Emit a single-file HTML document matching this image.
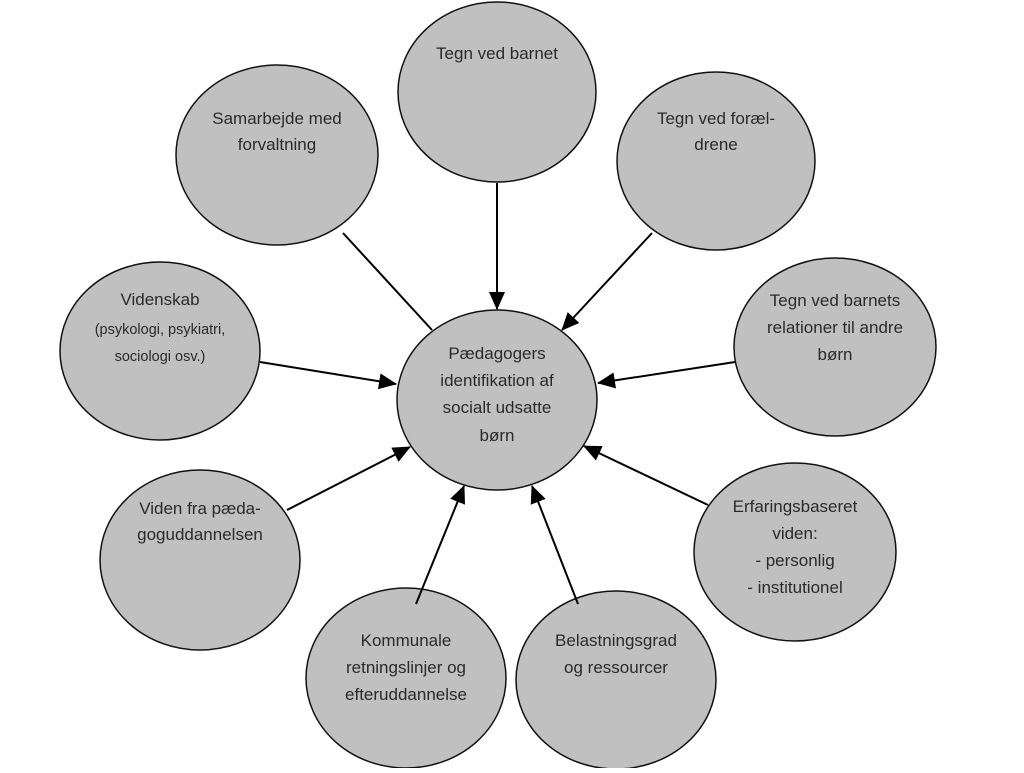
<!DOCTYPE html>
<html><head><meta charset="utf-8"><style>
html,body{margin:0;padding:0;background:#fff;}
svg text{font-family:"Liberation Sans",sans-serif;font-size:17px;fill:#2a2a2a;text-anchor:middle;}
</style></head><body>
<svg width="1024" height="768" viewBox="0 0 1024 768" xmlns="http://www.w3.org/2000/svg">
<defs>
<marker id="b" markerWidth="18" markerHeight="16" refX="17" refY="8" orient="auto" markerUnits="userSpaceOnUse" viewBox="0 0 18 16"><path d="M0,0 L18,8 L0,16 z" fill="#000"/></marker></defs>
<g fill="#c0c0c0" stroke="#111" stroke-width="1.5">
<ellipse cx="497" cy="92" rx="99" ry="90"/>
<ellipse cx="277" cy="155" rx="101" ry="90"/>
<ellipse cx="716" cy="161" rx="99" ry="89"/>
<ellipse cx="160" cy="351" rx="100" ry="89"/>
<ellipse cx="835" cy="347" rx="101" ry="89"/>
<ellipse cx="200" cy="560" rx="100" ry="90"/>
<ellipse cx="795" cy="552" rx="101" ry="89"/>
<ellipse cx="406" cy="678" rx="100" ry="90"/>
<ellipse cx="616" cy="680" rx="100" ry="89"/>
<ellipse cx="497" cy="400" rx="100" ry="90"/>
</g>
<g stroke="#000" stroke-width="2" marker-end="url(#b)">
<line x1="497" y1="183" x2="497" y2="309"/>
<line x1="652" y1="233" x2="562" y2="330"/>
<line x1="260" y1="362" x2="396" y2="384"/>
<line x1="735" y1="362" x2="598" y2="383"/>
<line x1="287" y1="510" x2="410" y2="447"/>
<line x1="708" y1="505" x2="584" y2="446"/>
<line x1="416" y1="604" x2="464" y2="486"/>
<line x1="578" y1="604" x2="532" y2="486"/>
</g>
<line x1="343" y1="233" x2="432" y2="330" stroke="#000" stroke-width="2"/>
<text x="497" y="59">Tegn ved barnet</text>
<text x="277" y="124">Samarbejde med</text><text x="277" y="150">forvaltning</text>
<text x="716" y="124">Tegn ved foræl-</text><text x="716" y="150">drene</text>
<text x="160" y="305">Videnskab</text>
<text x="160" y="334" style="font-size:14.5px">(psykologi, psykiatri,</text>
<text x="160" y="361" style="font-size:14.5px">sociologi osv.)</text>
<text x="835" y="306">Tegn ved barnets</text><text x="835" y="333">relationer til andre</text><text x="835" y="360">børn</text>
<text x="497" y="359">Pædagogers</text><text x="497" y="386">identifikation af</text><text x="497" y="413">socialt udsatte</text><text x="497" y="441">børn</text>
<text x="200" y="514">Viden fra pæda-</text><text x="200" y="540">goguddannelsen</text>
<text x="795" y="512">Erfaringsbaseret</text><text x="795" y="539">viden:</text><text x="795" y="566">- personlig</text><text x="795" y="593">- institutionel</text>
<text x="406" y="646">Kommunale</text><text x="406" y="673">retningslinjer og</text><text x="406" y="700">efteruddannelse</text>
<text x="616" y="646">Belastningsgrad</text><text x="616" y="673">og ressourcer</text>
</svg>
</body></html>
